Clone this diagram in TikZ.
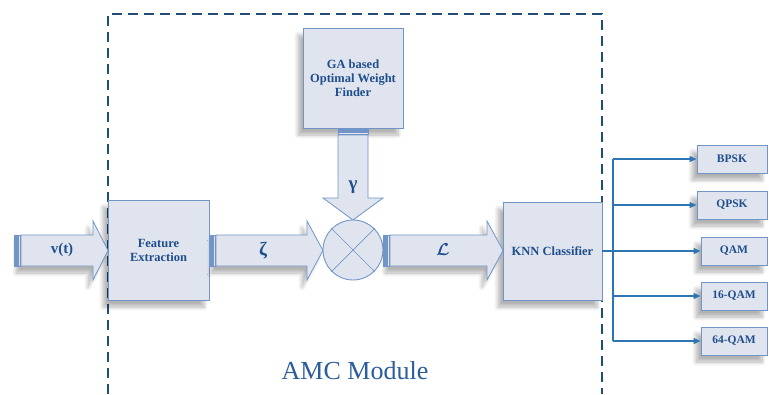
\documentclass[tikz,border=0pt]{standalone}
\usepackage{fontspec}
\usepackage{amsmath,bm}
\setmainfont{Liberation Serif}
\usetikzlibrary{shadows.blur,arrows.meta}
\definecolor{boxfill}{HTML}{DFE4EF}
\definecolor{boxline}{HTML}{7095C6}
\definecolor{txt}{HTML}{1F4E8C}
\definecolor{dashc}{HTML}{1F4E79}
\definecolor{outc}{HTML}{2E75B6}
\definecolor{amc}{HTML}{2A5D9C}
\begin{document}
\begin{tikzpicture}[x=1pt,y=-1pt,
  shad/.style={blur shadow={shadow xshift=-5pt,shadow yshift=-7pt,shadow opacity=30,shadow blur steps=10,shadow blur radius=4pt}},
  blk/.style={draw=boxline, fill=boxfill, line width=0.9pt, inner sep=0pt,
    font=\bfseries\fontsize{12.5}{14}\selectfont, text=txt, align=center, shad},
  outbox/.style={draw=boxline, fill=boxfill, line width=0.9pt, inner sep=0pt,
    minimum height=28pt, font=\bfseries\fontsize{11.5}{13}\selectfont, text=txt, shad},
  arrshape/.style={draw=boxline, fill=boxfill, line width=0.8pt},
  barfill/.style={draw=boxline, fill=boxline, line width=0.4pt},
  barlight/.style={draw=boxline, fill=boxfill, line width=0.6pt},
  lbl/.style={text=txt, inner sep=0pt},
  outl/.style={draw=outc, line width=1.1pt},
  outarr/.style={outl, -{Triangle[length=7pt,width=6pt]}}
]
\useasboundingbox (0,0) rectangle (769,394);

% dashed AMC module frame
\draw[dashc, line width=1.7pt, dash pattern=on 10pt off 6pt] (108,394) -- (108,14) -- (602,14) -- (602,394);

% blocks
\node[blk, minimum width=101pt, minimum height=100pt] (fe) at (158.5,250) {Feature\\Extraction};
\node[blk, minimum width=100pt, minimum height=100pt] (ga) at (353,78) {GA based\\Optimal Weight\\Finder};
\node[blk, minimum width=99pt, minimum height=98pt] (knn) at (552.5,251) {KNN Classifier};

% v(t) arrow
\path[arrshape, shad] (21,235) -- (93,235) -- (93,221) -- (108,250.5) -- (93,280) -- (93,266) -- (21,266) -- cycle;
\path[barfill] (14,235) rectangle (17,266);
\path[barlight] (18,235) rectangle (20.5,266);
\node[lbl, font=\bfseries\fontsize{15}{17}\selectfont] (vt) at (62,250) {v(t)};

% zeta arrow
\path[arrshape, shad] (216,235) -- (307,235) -- (307,221) -- (323,250.5) -- (307,280) -- (307,266) -- (216,266) -- cycle;
\path[barfill] (209.5,235) rectangle (212,266);
\path[barlight] (213,235) rectangle (215.5,266);
\node[lbl, font=\bfseries\fontsize{19}{21}\selectfont] (zeta) at (263,251) {ζ};

% gamma arrow
\path[arrshape] (338,135) -- (338,198) -- (323,198) -- (353,220) -- (383,198) -- (368,198) -- (368,135) -- cycle;
\path[barfill] (338,128.5) rectangle (368,131);
\path[barlight] (338,132) rectangle (368,134.5);
\node[lbl, font=\bfseries\fontsize{19}{21}\selectfont] (gam) at (353,187) {γ};

% mixer
\node[draw=boxline, fill=boxfill, line width=0.9pt, circle, minimum size=60pt, inner sep=0pt] (mix) at (353,250) {};
\draw[boxline, line width=0.7pt] (mix.north west) -- (mix.south east);
\draw[boxline, line width=0.7pt] (mix.north east) -- (mix.south west);

% L arrow
\path[arrshape, shad] (390,235) -- (487,235) -- (487,221) -- (503,250.5) -- (487,280) -- (487,266) -- (390,266) -- cycle;
\path[barfill] (383.5,235) rectangle (386,266);
\path[barlight] (387,235) rectangle (389.5,266);
\node[lbl, font=\fontsize{19}{21}\selectfont] (ell) at (443,250) {$\bm{\mathcal{L}}$};

% outputs
\node[outbox, minimum width=70pt] (bpsk) at (732,159) {BPSK};
\node[outbox, minimum width=70pt] (qpsk) at (732,205) {QPSK};
\node[outbox, minimum width=66pt] (qam) at (734,251) {QAM};
\node[outbox, minimum width=66pt] (q16) at (734,296) {16-QAM};
\node[outbox, minimum width=66pt] (q64) at (734,341) {64-QAM};

\coordinate (trT) at (613,159);
\coordinate (trB) at (613,341);
\draw[outl] (trT) -- (trB);
\draw[outarr] (knn.east) -- (qam.west);
\draw[outarr] (trT) -- (bpsk.west);
\draw[outarr] (qpsk.west -| trT) -- (qpsk.west);
\draw[outarr] (q16.west -| trT) -- (q16.west);
\draw[outarr] (trB) -- (q64.west);

\node[text=amc, font=\fontsize{26}{30}\selectfont, inner sep=0pt] (amcl) at (355,371) {AMC Module};
\end{tikzpicture}
\end{document}
